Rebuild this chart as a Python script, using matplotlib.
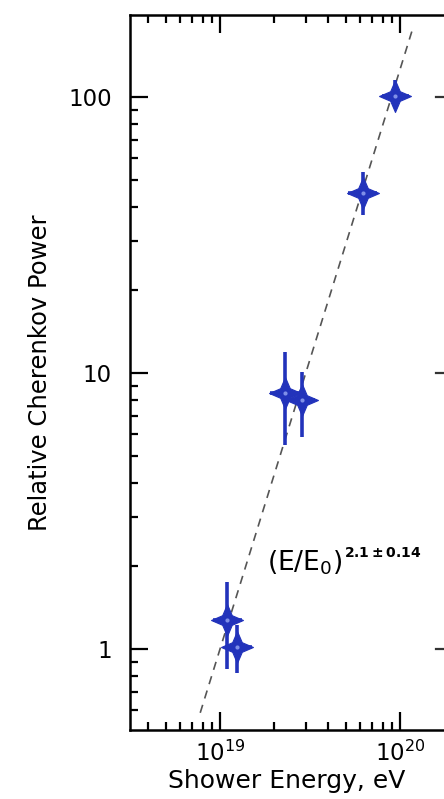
import numpy as np
import matplotlib
matplotlib.use("Agg")
import matplotlib.pyplot as plt
from matplotlib.path import Path
from matplotlib.ticker import LogLocator, NullFormatter

plt.rcParams['font.family'] = ['DejaVu Sans']

# shower energy (eV) and relative Cherenkov power, with asymmetric errors
energy = [1.09e19, 1.24e19, 2.30e19, 2.86e19, 6.23e19, 9.38e19]
energy_lo = [9.15e18, 1.07e19, 1.90e19, 2.39e19, 5.14e19, 7.94e19]
energy_hi = [1.32e19, 1.51e19, 2.78e19, 3.37e19, 7.45e19, 1.12e20]
power = [1.27, 1.02, 8.47, 7.98, 44.9, 101.0]
power_lo = [0.85, 0.82, 5.48, 5.86, 37.4, 91.0]
power_hi = [1.75, 1.22, 11.9, 10.1, 53.5, 115.0]

# power law fit (E/E0)^index
e0 = 1.0e19
index = 2.1
fit_range = [10**18.89, 10**20.07]

blue = '#2233bb'

# four pointed star with concave sides
k = 0.3
star = Path([(1, 0), (k, k), (0, 1), (-k, k), (-1, 0), (-k, -k), (0, -1), (k, -k), (1, 0)],
            [Path.MOVETO] + [Path.LINETO] * 7 + [Path.CLOSEPOLY])

fig = plt.figure(figsize=(4.44, 7.99), dpi=100)
ax = fig.add_axes([130/444, 69/799, 314/444, 715/799])

x = np.array(energy)
y = np.array(power)
xerr = [x - np.array(energy_lo), np.array(energy_hi) - x]
yerr = [y - np.array(power_lo), np.array(power_hi) - y]

ex = np.logspace(np.log10(fit_range[0]), np.log10(fit_range[1]), 50)
ax.plot(ex, (ex / e0)**index, ls=(0, (5, 4)), color='#555555', lw=1.2, zorder=1)

ax.errorbar(x, y, xerr=xerr, yerr=yerr, fmt='none', ecolor=blue,
            elinewidth=2.6, capsize=0, zorder=2)
ax.plot(x, y, ls='none', marker=star, ms=23, color=blue,
        markeredgewidth=0.8, zorder=3)
ax.plot(x, y, ls='none', marker='o', ms=3, color='#7f8fe8', mew=0, zorder=4)

ax.set_xscale('log')
ax.set_yscale('log')
ax.set_xlim(10**18.5, 10**20.244)
ax.set_ylim(0.509, 198)

ax.xaxis.set_major_locator(LogLocator(base=10, numticks=10))
ax.xaxis.set_minor_locator(LogLocator(base=10, subs=np.arange(2, 10), numticks=20))
ax.xaxis.set_minor_formatter(NullFormatter())
ax.set_yticks([1, 10, 100])
ax.set_yticklabels(['1', '10', '100'])
ax.yaxis.set_minor_locator(LogLocator(base=10, subs=np.arange(2, 10), numticks=20))
ax.yaxis.set_minor_formatter(NullFormatter())

ax.tick_params(which='both', direction='in', top=True, right=False, width=1.6,
               labelsize=16.5, colors='black')
ax.tick_params(which='major', length=13)
ax.tick_params(axis='y', which='major', pad=13)
ax.tick_params(axis='x', which='major', pad=8)
ax.tick_params(which='minor', length=6)
for s in ['left', 'bottom', 'top']:
    ax.spines[s].set_linewidth(1.8)
ax.spines['right'].set_visible(False)

# right hand axis carries only the decade ticks
for v in [1, 10, 100]:
    ax.plot([1.0, 0.975], [v, v], color='#333333', lw=1.6,
            transform=ax.get_yaxis_transform(), clip_on=False)

ax.set_xlabel('Shower Energy, eV', fontsize=18, labelpad=2)
ax.set_ylabel('Relative Cherenkov Power', fontsize=17.5)
ax.yaxis.set_label_coords(-0.248, 0.5)

fit_label = ax.text(1.83e19, 2.05, r'(E/E$_0$)', fontsize=19,
                    va='center', ha='left')
ax.annotate(r'$\mathbf{2.1\pm0.14}$', xy=(1, 1), xycoords=fit_label,
            xytext=(1, 2), textcoords='offset points',
            fontsize=10, va='top', ha='left')

fig.savefig('out.png', dpi=100)
